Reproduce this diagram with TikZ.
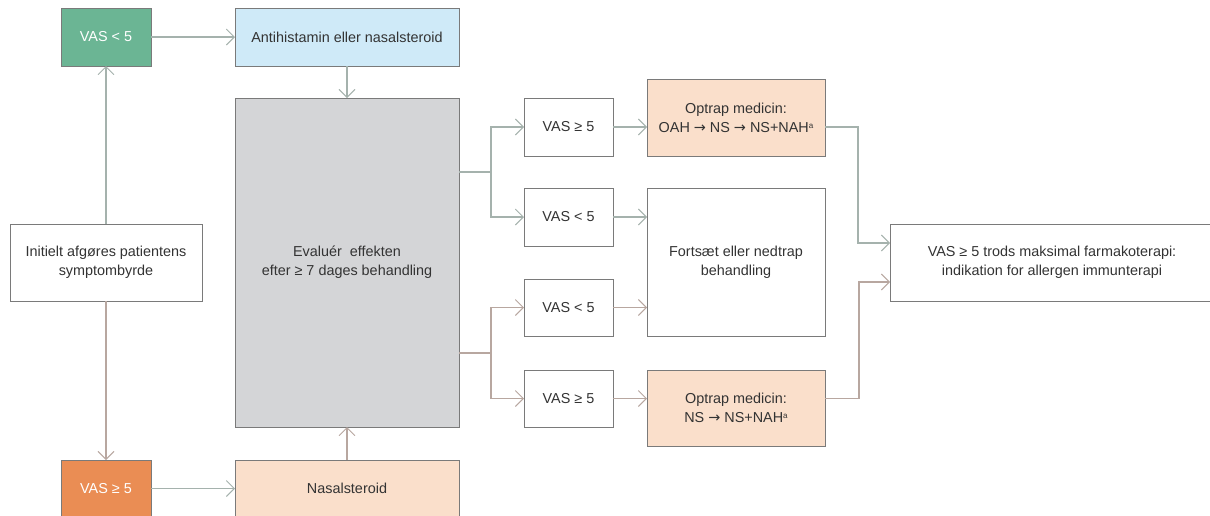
\documentclass[tikz,border=0pt]{standalone}
\usepackage{fontspec}
\setmainfont{Liberation Sans}
\newfontfamily\symfont{DejaVu Sans}
\usetikzlibrary{arrows.meta}
\definecolor{gline}{HTML}{A5B2AD}
\definecolor{bline}{HTML}{B8A7A0}
\definecolor{bord}{HTML}{7A7A7A}
\definecolor{txt}{HTML}{333333}
\definecolor{greenf}{HTML}{6BB594}
\definecolor{orangef}{HTML}{EA8D54}
\definecolor{bluef}{HTML}{CFEAF8}
\definecolor{grayf}{HTML}{D4D5D7}
\definecolor{peachf}{HTML}{FADFCB}
\newcommand{\arr}{{\symfont\char"2192}}
\newcommand{\supa}{\raisebox{0.5ex}{\fontsize{8}{8}\selectfont a}}
\tikzset{
  bx/.style={draw=bord, line width=0.9pt, inner sep=2pt, outer sep=0pt, align=center,
    text=txt, font=\fontsize{14.4}{19}\selectfont},
  conn/.style={line width=1.1pt, -{Straight Barb[length=8pt,width=16pt,line width=0.9pt]}},
  gconn/.style={conn, draw=gline},
  bconn/.style={conn, draw=bline},
  gline/.style={line width=1.1pt, draw=gline},
  bline/.style={line width=1.1pt, draw=bline},
}
\newcommand{\bxn}[7]{%
  \node[bx,#6,minimum width={(#4)-(#2)}, minimum height={(#5)-(#3)}] (#1) at ({((#2)+(#4))/2},{((#3)+(#5))/2}) {#7};}
\begin{document}
\begin{tikzpicture}[x=1pt,y=-1pt]
\useasboundingbox[fill=white] (0,0) rectangle (1210,515);
\bxn{vlow}{61}{8}{151}{66}{fill=greenf,text=white}{VAS < 5}
\bxn{anti}{235}{8}{459}{66}{fill=bluef}{Antihistamin eller nasalsteroid}
\bxn{eval}{235}{98}{459}{427}{fill=grayf}{Evaluér\ \ effekten\\efter ≥ 7 dages behandling}
\bxn{init}{10}{224}{202}{301}{fill=white}{Initielt afgøres patientens\\symptombyrde}
\bxn{vhigh}{61}{460}{151}{517}{fill=orangef,text=white}{VAS ≥ 5}
\bxn{nasal}{235}{460}{459}{517}{fill=peachf}{Nasalsteroid}
\bxn{a1}{524}{98}{613}{156}{fill=white}{VAS ≥ 5}
\bxn{a2}{524}{188}{613}{246}{fill=white}{VAS < 5}
\bxn{a3}{524}{279}{613}{336}{fill=white}{VAS < 5}
\bxn{a4}{524}{370}{613}{427}{fill=white}{VAS ≥ 5}
\bxn{opt1}{647}{79}{825}{156}{fill=peachf}{Optrap medicin:\\OAH \arr{} NS \arr{} NS+NAH\supa}
\bxn{fort}{647}{188}{825}{336}{fill=white}{Fortsæt eller nedtrap\\behandling}
\bxn{opt2}{647}{370}{825}{446}{fill=peachf}{Optrap medicin:\\NS \arr{} NS+NAH\supa}
\bxn{fin}{890}{224}{1214}{301}{fill=white}{VAS ≥ 5 trods maksimal farmakoterapi:\\indikation for allergen immunterapi}
% connectors
\draw[gconn] (init.north -| vlow.south) -- (vlow.south);
\draw[bconn] (init.south -| vhigh.north) -- (vhigh.north);
\draw[gconn] (vlow.east) -- (anti.west);
\draw[gconn] (vhigh.east) -- (nasal.west |- vhigh.east);
\draw[gconn] (anti.south) -- (eval.north);
\draw[bconn] (nasal.north) -- (eval.south);
\coordinate (s1) at (491,172);
\coordinate (s2) at (491,353);
\draw[gline] (eval.east |- s1) -- (s1);
\draw[gconn] (s1) |- (a1.west);
\draw[gconn] (s1) |- (a2.west);
\draw[bline] (eval.east |- s2) -- (s2);
\draw[bconn] (s2) |- (a3.west);
\draw[bconn] (s2) |- (a4.west);
\draw[gconn] (a1.east) -- (opt1.west |- a1.east);
\draw[gconn] (a2.east) -- (fort.west |- a2.east);
\draw[bconn] (a3.east) -- (fort.west |- a3.east);
\draw[bconn] (a4.east) -- (opt2.west |- a4.east);
\coordinate (t1) at (858,243);
\coordinate (t2) at (859,282);
\draw[gconn] (opt1.east |- a1.east) -| (t1) -- (fin.west |- t1);
\draw[bconn] (opt2.east |- a4.east) -| (t2) -- (fin.west |- t2);
\end{tikzpicture}
\end{document}
